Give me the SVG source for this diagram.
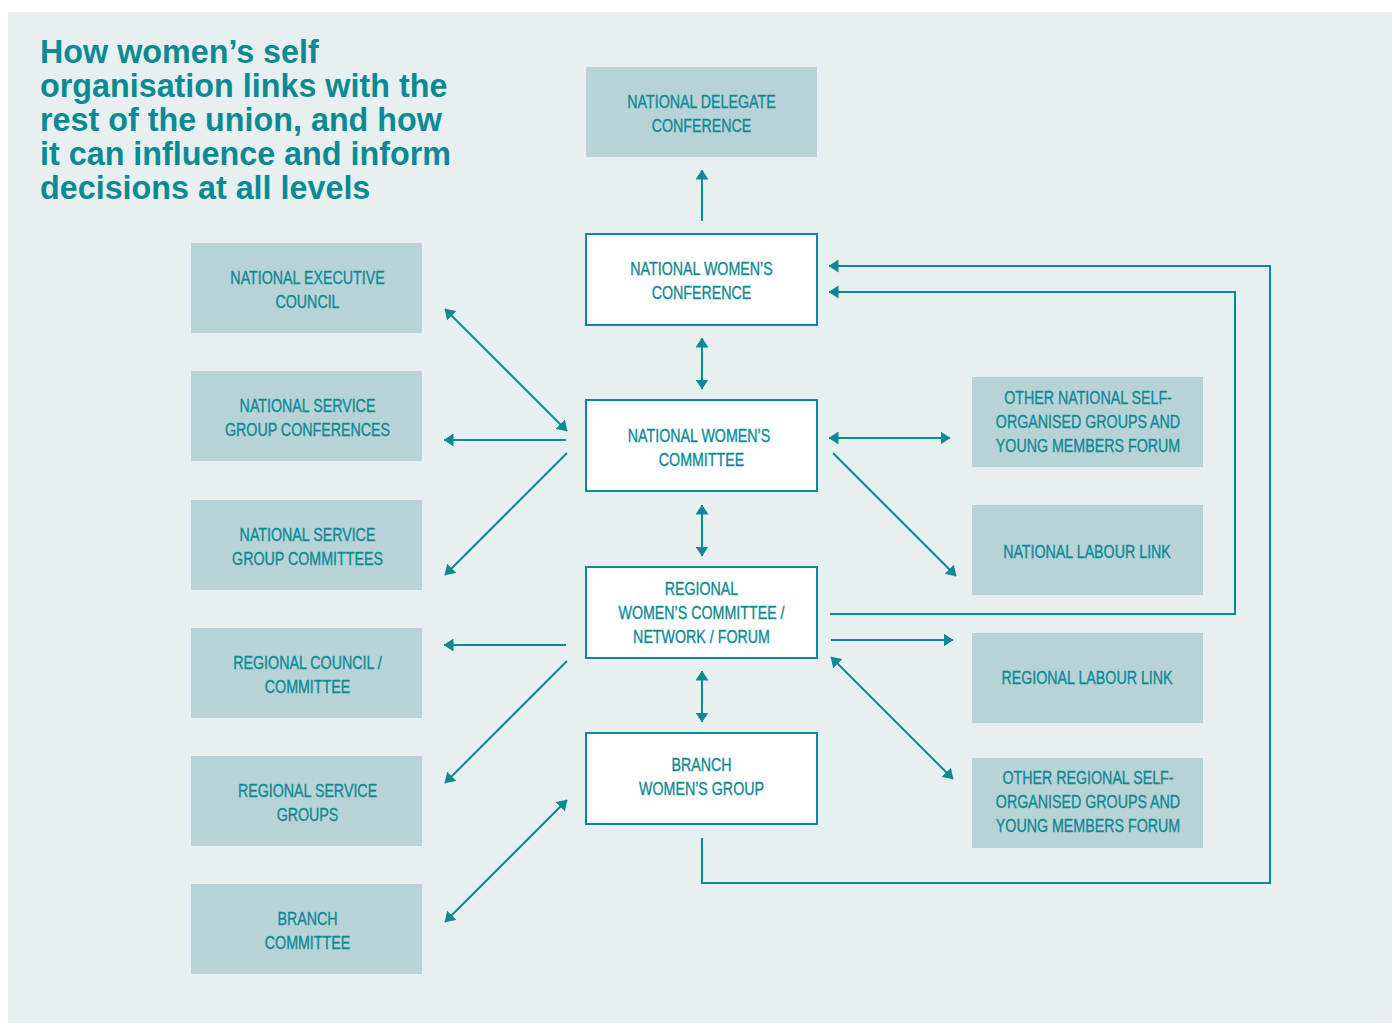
<svg xmlns="http://www.w3.org/2000/svg" width="1397" height="1023" viewBox="0 0 1397 1023">
<defs>
<style>
.title{font-family:"Liberation Sans",Arial,sans-serif;font-weight:bold;font-size:32.3px;fill:#0b8a93}
.lbl{font-family:"Liberation Sans",Arial,sans-serif;font-size:18.5px;fill:#0b8a93;stroke:#0b8a93;stroke-width:0.35;text-anchor:middle}
.grey{fill:#b8d3d7}
.white{fill:#ffffff;stroke:#0b8a93;stroke-width:2}
.ln{fill:none;stroke:#0b8a93;stroke-width:2}
</style>
<marker id="ah" viewBox="0 0 10 13" refX="9.5" refY="6.5" markerWidth="10" markerHeight="13" markerUnits="userSpaceOnUse" orient="auto-start-reverse">
<path d="M0,0 L10,6.5 L0,13 Z" fill="#0b8a93"/>
</marker>
</defs>
<rect x="0" y="0" width="1397" height="1023" fill="#ffffff"/>
<rect x="8" y="12" width="1384" height="1011" fill="#e7eff0"/>
<g id="title">
<text class="title" x="40" y="63">How women’s self</text>
<text class="title" x="40" y="97">organisation links with the</text>
<text class="title" x="40" y="131">rest of the union, and how</text>
<text class="title" x="40" y="165">it can influence and inform</text>
<text class="title" x="40" y="199">decisions at all levels</text>
</g>
<g id="connectors">
<line class="ln" x1="702" y1="221" x2="702" y2="170" marker-end="url(#ah)"/>
<line class="ln" x1="702" y1="338" x2="702" y2="389" marker-start="url(#ah)" marker-end="url(#ah)"/>
<line class="ln" x1="702" y1="505" x2="702" y2="556" marker-start="url(#ah)" marker-end="url(#ah)"/>
<line class="ln" x1="702" y1="671" x2="702" y2="722" marker-start="url(#ah)" marker-end="url(#ah)"/>
<line class="ln" x1="445" y1="309" x2="567" y2="431" marker-start="url(#ah)" marker-end="url(#ah)"/>
<line class="ln" x1="566" y1="440" x2="444" y2="440" marker-end="url(#ah)"/>
<line class="ln" x1="567" y1="453" x2="445" y2="575" marker-end="url(#ah)"/>
<line class="ln" x1="566" y1="645" x2="444" y2="645" marker-end="url(#ah)"/>
<line class="ln" x1="567" y1="661" x2="445" y2="783" marker-end="url(#ah)"/>
<line class="ln" x1="567" y1="800" x2="445" y2="922" marker-start="url(#ah)" marker-end="url(#ah)"/>
<line class="ln" x1="829" y1="438" x2="950" y2="438" marker-start="url(#ah)" marker-end="url(#ah)"/>
<line class="ln" x1="833" y1="453" x2="956" y2="576" marker-end="url(#ah)"/>
<line class="ln" x1="831" y1="640" x2="953" y2="640" marker-end="url(#ah)"/>
<line class="ln" x1="831" y1="657" x2="953" y2="779" marker-start="url(#ah)" marker-end="url(#ah)"/>
<polyline class="ln" points="830,614 1235,614 1235,292 829,292" marker-end="url(#ah)"/>
<polyline class="ln" points="702,838 702,883 1270,883 1270,266 829,266" marker-end="url(#ah)"/>
</g>
<g id="n-ndc"><rect class="grey" x="586" y="67" width="231" height="90"/><text class="lbl" transform="translate(701.5,108) scale(0.77,1)">NATIONAL DELEGATE</text><text class="lbl" transform="translate(701.5,132) scale(0.77,1)">CONFERENCE</text></g>
<g id="n-nwconf"><rect class="white" x="586" y="234" width="231" height="91"/><text class="lbl" transform="translate(701.5,275) scale(0.77,1)">NATIONAL WOMEN’S</text><text class="lbl" transform="translate(701.5,299) scale(0.77,1)">CONFERENCE</text></g>
<g id="n-nwcomm"><rect class="white" x="586" y="400" width="231" height="91"/><text class="lbl" transform="translate(699,442) scale(0.77,1)">NATIONAL WOMEN’S</text><text class="lbl" transform="translate(701.5,466) scale(0.77,1)">COMMITTEE</text></g>
<g id="n-rwc"><rect class="white" x="586" y="567" width="231" height="91"/><text class="lbl" transform="translate(701.5,595) scale(0.77,1)">REGIONAL</text><text class="lbl" transform="translate(701.5,619) scale(0.77,1)">WOMEN’S COMMITTEE /</text><text class="lbl" transform="translate(701.5,643) scale(0.77,1)">NETWORK / FORUM</text></g>
<g id="n-bwg"><rect class="white" x="586" y="733" width="231" height="91"/><text class="lbl" transform="translate(701.5,771) scale(0.77,1)">BRANCH</text><text class="lbl" transform="translate(701.5,795) scale(0.77,1)">WOMEN’S GROUP</text></g>
<g id="n-nec"><rect class="grey" x="191" y="243" width="231" height="90"/><text class="lbl" transform="translate(307.5,284) scale(0.77,1)">NATIONAL EXECUTIVE</text><text class="lbl" transform="translate(307.5,308) scale(0.77,1)">COUNCIL</text></g>
<g id="n-nsgconf"><rect class="grey" x="191" y="371" width="231" height="90"/><text class="lbl" transform="translate(307.5,412) scale(0.77,1)">NATIONAL SERVICE</text><text class="lbl" transform="translate(307.5,436) scale(0.77,1)">GROUP CONFERENCES</text></g>
<g id="n-nsgcomm"><rect class="grey" x="191" y="500" width="231" height="90"/><text class="lbl" transform="translate(307.5,541) scale(0.77,1)">NATIONAL SERVICE</text><text class="lbl" transform="translate(307.5,565) scale(0.77,1)">GROUP COMMITTEES</text></g>
<g id="n-rc"><rect class="grey" x="191" y="628" width="231" height="90"/><text class="lbl" transform="translate(307.5,669) scale(0.77,1)">REGIONAL COUNCIL /</text><text class="lbl" transform="translate(307.5,693) scale(0.77,1)">COMMITTEE</text></g>
<g id="n-rsg"><rect class="grey" x="191" y="756" width="231" height="90"/><text class="lbl" transform="translate(307.5,797) scale(0.77,1)">REGIONAL SERVICE</text><text class="lbl" transform="translate(307.5,821) scale(0.77,1)">GROUPS</text></g>
<g id="n-bc"><rect class="grey" x="191" y="884" width="231" height="90"/><text class="lbl" transform="translate(307.5,925) scale(0.77,1)">BRANCH</text><text class="lbl" transform="translate(307.5,949) scale(0.77,1)">COMMITTEE</text></g>
<g id="n-onsog"><rect class="grey" x="972" y="377" width="231" height="90"/><text class="lbl" transform="translate(1088,404) scale(0.77,1)">OTHER NATIONAL SELF-</text><text class="lbl" transform="translate(1088,428) scale(0.77,1)">ORGANISED GROUPS AND</text><text class="lbl" transform="translate(1088,452) scale(0.77,1)">YOUNG MEMBERS FORUM</text></g>
<g id="n-nll"><rect class="grey" x="972" y="505" width="231" height="90"/><text class="lbl" transform="translate(1087,558) scale(0.77,1)">NATIONAL LABOUR LINK</text></g>
<g id="n-rll"><rect class="grey" x="972" y="633" width="231" height="90"/><text class="lbl" transform="translate(1087,684) scale(0.77,1)">REGIONAL LABOUR LINK</text></g>
<g id="n-orsog"><rect class="grey" x="972" y="758" width="231" height="90"/><text class="lbl" transform="translate(1088,784) scale(0.77,1)">OTHER REGIONAL SELF-</text><text class="lbl" transform="translate(1088,808) scale(0.77,1)">ORGANISED GROUPS AND</text><text class="lbl" transform="translate(1088,832) scale(0.77,1)">YOUNG MEMBERS FORUM</text></g>
</svg>
